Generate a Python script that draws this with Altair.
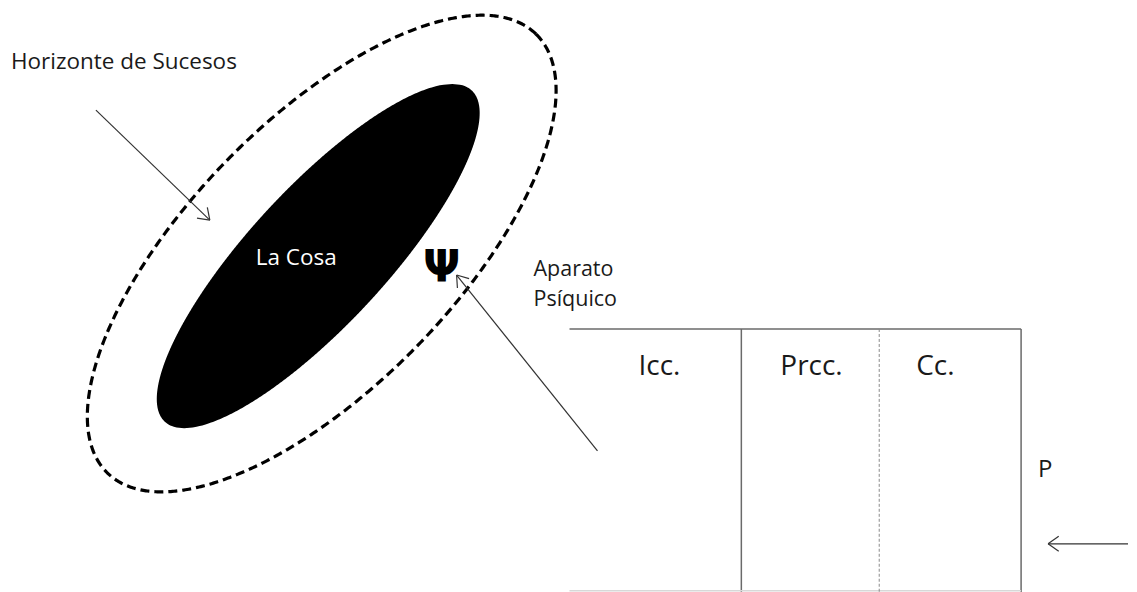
import altair as alt
import numpy as np
import pandas as pd

W, H = 1121, 576
X0, Y0 = 8, 8  # page margin offset

# ---- ellipses (center x, center y, semi-major, semi-minor, tilt in degrees)
ell_name = ["La Cosa", "Horizonte de Sucesos"]
ell_cx = [318.5, 322.0]
ell_cy = [255.0, 252.5]
ell_a = [226.0, 307.0]
ell_b = [68.6, 133.0]
ell_ang = [47.2, 45.7]

# ---- text labels
lab_text = ["Horizonte de Sucesos", "La Cosa", "Aparato", "Psíquico", "Icc.", "Prcc.", "Cc.", "P"]
lab_x = [11, 256, 534, 534, 639, 781, 917, 1039]
lab_y = [68, 264, 275, 305, 374, 374, 374, 476]
lab_size = [22.5, 22.5, 21.5, 21.5, 28, 28, 28, 24]
lab_color = ["#1a1a1a", "#ffffff", "#1a1a1a", "#1a1a1a", "#1a1a1a", "#1a1a1a", "#1a1a1a", "#1a1a1a"]

psi_text = ["Ψ"]
psi_x = [442]
psi_y = [281]

# ---- box lines
box_x1 = [570, 742, 1022, 570]
box_y1 = [328, 328, 328, 590]
box_x2 = [1022, 742, 1022, 1022]
box_y2 = [328, 592, 592, 590]
box_col = ["#6a6a6a", "#6a6a6a", "#6a6a6a", "#d8d8d8"]
div_x = [880]
div_y1 = [328]
div_y2 = [592]

# ---- arrows (tail -> tip)
arr_x0 = [96, 598, 1129]
arr_y0 = [109, 450, 543]
arr_x1 = [210, 457, 1049]
arr_y1 = [219, 274, 543]
HEAD_LEN, HEAD_ANG = 13, 35


def ell_fill_rows(cx, cy, a, b, ang, n=500):
    t = np.radians(ang)
    c, s = np.cos(t), np.sin(t)
    hh = np.sqrt(a * a * s * s + b * b * c * c)
    ys = np.linspace(cy - hh, cy + hh, n)
    A = c * c / a**2 + s * s / b**2
    rows = []
    for y in ys:
        up = -(y - cy)
        B = 2 * up * (c * s / a**2 - s * c / b**2)
        C = up * up * (s * s / a**2 + c * c / b**2) - 1
        disc = max(B * B - 4 * A * C, 0.0)
        r1 = (-B - np.sqrt(disc)) / (2 * A)
        r2 = (-B + np.sqrt(disc)) / (2 * A)
        rows.append({"y": y, "xl": cx + r1, "xr": cx + r2})
    return pd.DataFrame(rows)


def ell_outline(cx, cy, a, b, ang, n=720):
    t = np.radians(ang)
    c, s = np.cos(t), np.sin(t)
    p = np.linspace(0, 2 * np.pi, n + 1)
    u, v = a * np.cos(p), b * np.sin(p)
    x = cx + u * c - v * s
    y = cy - (u * s + v * c)
    return pd.DataFrame({"x": x, "y": y, "o": np.arange(n + 1)})


xs = alt.Scale(domain=[X0, X0 + W])
ys = alt.Scale(domain=[Y0 + H, Y0])

fill_df = ell_fill_rows(ell_cx[0], ell_cy[0], ell_a[0], ell_b[0], ell_ang[0])
black = alt.Chart(fill_df).mark_area(orient="horizontal", color="black", opacity=1).encode(
    y=alt.Y("y:Q", scale=ys, axis=None),
    x=alt.X("xl:Q", scale=xs, axis=None),
    x2="xr:Q",
)

out_df = ell_outline(ell_cx[1], ell_cy[1], ell_a[1], ell_b[1], ell_ang[1])
dashed = alt.Chart(out_df).mark_line(color="black", strokeWidth=3.2, strokeDash=[9, 5]).encode(
    x=alt.X("x:Q", scale=xs, axis=None),
    y=alt.Y("y:Q", scale=ys, axis=None),
    order="o:Q",
)

# arrows: shafts + open heads
segs = []
for x0, y0, x1, y1 in zip(arr_x0, arr_y0, arr_x1, arr_y1):
    segs.append({"x": x0, "y": y0, "x2": x1, "y2": y1})
    back = np.arctan2(y0 - y1, x0 - x1)
    for sgn in (-1, 1):
        th = back + sgn * np.radians(HEAD_ANG)
        segs.append({"x": x1, "y": y1, "x2": x1 + HEAD_LEN * np.cos(th), "y2": y1 + HEAD_LEN * np.sin(th)})
arrows = alt.Chart(pd.DataFrame(segs)).mark_rule(color="#333333", strokeWidth=1.2).encode(
    x=alt.X("x:Q", scale=xs, axis=None), y=alt.Y("y:Q", scale=ys, axis=None), x2="x2:Q", y2="y2:Q"
)

box_df = pd.DataFrame({"x": box_x1, "y": box_y1, "x2": box_x2, "y2": box_y2, "c": box_col})
box = alt.Chart(box_df).mark_rule(strokeWidth=1.5).encode(
    x=alt.X("x:Q", scale=xs, axis=None), y=alt.Y("y:Q", scale=ys, axis=None), x2="x2:Q", y2="y2:Q",
    color=alt.Color("c:N", scale=None),
)
div_df = pd.DataFrame({"x": div_x, "y": div_y1, "y2": div_y2})
divider = alt.Chart(div_df).mark_rule(color="#8a8a8a", strokeWidth=1, strokeDash=[3, 2]).encode(
    x=alt.X("x:Q", scale=xs, axis=None), y=alt.Y("y:Q", scale=ys, axis=None), y2="y2:Q"
)

lab_df = pd.DataFrame({"t": lab_text, "x": lab_x, "y": lab_y, "s": lab_size, "c": lab_color})
labels = alt.Chart(lab_df).mark_text(align="left", baseline="alphabetic", font="Open Sans").encode(
    x=alt.X("x:Q", scale=xs, axis=None), y=alt.Y("y:Q", scale=ys, axis=None), text="t:N",
    size=alt.Size("s:Q", scale=None, legend=None), color=alt.Color("c:N", scale=None),
)
psi_df = pd.DataFrame({"t": psi_text, "x": psi_x, "y": psi_y})
psi = alt.Chart(psi_df).mark_text(align="center", baseline="alphabetic", font="DejaVu Sans",
                                   fontWeight="bold", fontSize=44, color="black").encode(
    x=alt.X("x:Q", scale=xs, axis=None), y=alt.Y("y:Q", scale=ys, axis=None), text="t:N"
)

chart = alt.layer(dashed, black, arrows, box, divider, labels, psi).properties(
    width=W, height=H, padding=0, background="white"
).configure_view(stroke=None)

chart.save("out.html", embed_options={"renderer": "svg", "actions": False})
